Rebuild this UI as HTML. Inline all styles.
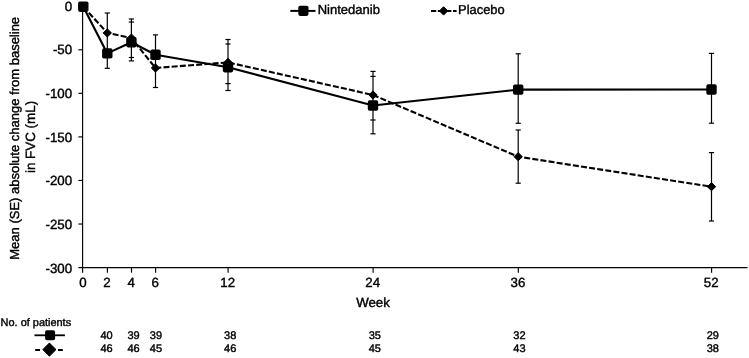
<!DOCTYPE html>
<html><head><meta charset="utf-8"><title>Chart</title>
<style>
html,body{margin:0;padding:0;background:#fff;}
body{width:749px;height:358px;overflow:hidden;}
svg{display:block;filter:grayscale(1);}
text{font-family:"Liberation Sans",sans-serif;fill:#000;stroke:#000;stroke-width:0.4px;text-rendering:geometricPrecision;}
</style></head><body>
<svg width="749" height="358" viewBox="0 0 749 358">
<rect x="0" y="0" width="749" height="358" fill="#fff"/>

<g stroke="#000" stroke-width="1.15" fill="none">
<line x1="82.6" y1="6.2" x2="82.6" y2="268.20000000000005"/>
<line x1="78.39999999999999" y1="267.6" x2="747.5" y2="267.6"/>
<line x1="78.39999999999999" y1="6.20" x2="82.6" y2="6.20"/>
<line x1="78.39999999999999" y1="49.77" x2="82.6" y2="49.77"/>
<line x1="78.39999999999999" y1="93.33" x2="82.6" y2="93.33"/>
<line x1="78.39999999999999" y1="136.90" x2="82.6" y2="136.90"/>
<line x1="78.39999999999999" y1="180.47" x2="82.6" y2="180.47"/>
<line x1="78.39999999999999" y1="224.03" x2="82.6" y2="224.03"/>
<line x1="82.6" y1="267.6" x2="82.6" y2="272.70000000000005"/>
<line x1="107.39999999999999" y1="267.6" x2="107.39999999999999" y2="272.70000000000005"/>
<line x1="131.5" y1="267.6" x2="131.5" y2="272.70000000000005"/>
<line x1="155.6" y1="267.6" x2="155.6" y2="272.70000000000005"/>
<line x1="228.1" y1="267.6" x2="228.1" y2="272.70000000000005"/>
<line x1="373.1" y1="267.6" x2="373.1" y2="272.70000000000005"/>
<line x1="518.3000000000001" y1="267.6" x2="518.3000000000001" y2="272.70000000000005"/>
<line x1="711.6" y1="267.6" x2="711.6" y2="272.70000000000005"/>
</g>
<text transform="translate(72.1,10.65) scale(1,1.0)" font-size="13.3" text-anchor="end">0</text>
<text transform="translate(72.1,54.32) scale(1,1.0)" font-size="13.3" text-anchor="end">-50</text>
<text transform="translate(72.1,97.99) scale(1,1.0)" font-size="13.3" text-anchor="end">-100</text>
<text transform="translate(72.1,141.66) scale(1,1.0)" font-size="13.3" text-anchor="end">-150</text>
<text transform="translate(72.1,185.33) scale(1,1.0)" font-size="13.3" text-anchor="end">-200</text>
<text transform="translate(72.1,229.0) scale(1,1.0)" font-size="13.3" text-anchor="end">-250</text>
<text transform="translate(72.1,272.67) scale(1,1.0)" font-size="13.3" text-anchor="end">-300</text>
<text transform="translate(83.0,287.2) scale(1,1.0)" font-size="13.3" text-anchor="middle">0</text>
<text transform="translate(107.0,287.2) scale(1,1.0)" font-size="13.3" text-anchor="middle">2</text>
<text transform="translate(131.1,287.2) scale(1,1.0)" font-size="13.3" text-anchor="middle">4</text>
<text transform="translate(155.2,287.2) scale(1,1.0)" font-size="13.3" text-anchor="middle">6</text>
<text transform="translate(227.7,287.2) scale(1,1.0)" font-size="13.3" text-anchor="middle">12</text>
<text transform="translate(372.7,287.2) scale(1,1.0)" font-size="13.3" text-anchor="middle">24</text>
<text transform="translate(517.9000000000001,287.2) scale(1,1.0)" font-size="13.3" text-anchor="middle">36</text>
<text transform="translate(711.2,287.2) scale(1,1.0)" font-size="13.3" text-anchor="middle">52</text>
<text transform="translate(373,306.8) scale(1,1.0)" font-size="13.3" text-anchor="middle">Week</text>
<text transform="translate(18.6,138.3) rotate(-90) scale(1,1.0)" font-size="13" text-anchor="middle">Mean (SE) absolute change from baseline</text>
<text transform="translate(35.2,137.0) rotate(-90) scale(1,1.0)" font-size="13.4" text-anchor="middle">in FVC (mL)</text>
<g stroke="#000" stroke-width="1.2" fill="none">
<line x1="107.3" y1="13.0" x2="107.3" y2="68.3"/>
<line x1="104.70" y1="13.0" x2="109.90" y2="13.0"/>
<line x1="104.70" y1="68.3" x2="109.90" y2="68.3"/>
<line x1="131.4" y1="19.0" x2="131.4" y2="60.9"/>
<line x1="128.80" y1="19.0" x2="134.00" y2="19.0"/>
<line x1="128.80" y1="22.0" x2="134.00" y2="22.0"/>
<line x1="128.80" y1="57.5" x2="134.00" y2="57.5"/>
<line x1="128.80" y1="60.9" x2="134.00" y2="60.9"/>
<line x1="155.5" y1="34.9" x2="155.5" y2="87.5"/>
<line x1="152.90" y1="34.9" x2="158.10" y2="34.9"/>
<line x1="152.90" y1="87.5" x2="158.10" y2="87.5"/>
<line x1="228.0" y1="39.5" x2="228.0" y2="90.5"/>
<line x1="225.40" y1="39.5" x2="230.60" y2="39.5"/>
<line x1="225.40" y1="44.0" x2="230.60" y2="44.0"/>
<line x1="225.40" y1="83.6" x2="230.60" y2="83.6"/>
<line x1="225.40" y1="90.5" x2="230.60" y2="90.5"/>
<line x1="373.0" y1="71.4" x2="373.0" y2="133.8"/>
<line x1="370.40" y1="71.4" x2="375.60" y2="71.4"/>
<line x1="370.40" y1="76.4" x2="375.60" y2="76.4"/>
<line x1="370.40" y1="120.0" x2="375.60" y2="120.0"/>
<line x1="370.40" y1="133.8" x2="375.60" y2="133.8"/>
<line x1="518.2" y1="53.8" x2="518.2" y2="123.3"/>
<line x1="515.60" y1="53.8" x2="520.80" y2="53.8"/>
<line x1="515.60" y1="123.3" x2="520.80" y2="123.3"/>
<line x1="518.2" y1="130.0" x2="518.2" y2="183.2"/>
<line x1="515.60" y1="130.0" x2="520.80" y2="130.0"/>
<line x1="515.60" y1="183.2" x2="520.80" y2="183.2"/>
<line x1="711.5" y1="53.4" x2="711.5" y2="123.2"/>
<line x1="708.90" y1="53.4" x2="714.10" y2="53.4"/>
<line x1="708.90" y1="123.2" x2="714.10" y2="123.2"/>
<line x1="711.5" y1="152.6" x2="711.5" y2="221.0"/>
<line x1="708.90" y1="152.6" x2="714.10" y2="152.6"/>
<line x1="708.90" y1="221.0" x2="714.10" y2="221.0"/>
</g>
<polyline points="83.3,6.7 107.3,32.9 131.4,38.1 155.5,68.0 228.0,62.4 373.0,95.0 518.2,156.7 711.5,186.7" fill="none" stroke="#000" stroke-width="2.1" stroke-dasharray="6 2.2"/>
<polyline points="83.3,6.7 107.3,53.4 131.4,42.2 155.5,54.8 228.0,67.2 373.0,105.5 518.2,89.6 711.5,89.5" fill="none" stroke="#000" stroke-width="2.15" stroke-linejoin="round"/>
<path d="M79.15,6.7 L83.3,2.55 L87.45,6.7 L83.3,10.85 Z" fill="#000" stroke="#000" stroke-width="1" stroke-linejoin="round"/>
<path d="M103.15,32.9 L107.3,28.75 L111.45,32.9 L107.3,37.05 Z" fill="#000" stroke="#000" stroke-width="1" stroke-linejoin="round"/>
<path d="M127.25,38.1 L131.4,33.95 L135.55,38.1 L131.4,42.25 Z" fill="#000" stroke="#000" stroke-width="1" stroke-linejoin="round"/>
<path d="M151.35,68.0 L155.5,63.85 L159.65,68.0 L155.5,72.15 Z" fill="#000" stroke="#000" stroke-width="1" stroke-linejoin="round"/>
<path d="M223.85,62.4 L228.0,58.25 L232.15,62.4 L228.0,66.55 Z" fill="#000" stroke="#000" stroke-width="1" stroke-linejoin="round"/>
<path d="M368.85,95.0 L373.0,90.85 L377.15,95.0 L373.0,99.15 Z" fill="#000" stroke="#000" stroke-width="1" stroke-linejoin="round"/>
<path d="M514.05,156.7 L518.2,152.55 L522.35,156.7 L518.2,160.85 Z" fill="#000" stroke="#000" stroke-width="1" stroke-linejoin="round"/>
<path d="M707.35,186.7 L711.5,182.55 L715.65,186.7 L711.5,190.85 Z" fill="#000" stroke="#000" stroke-width="1" stroke-linejoin="round"/>
<rect x="78.10" y="1.50" width="10.4" height="10.4" rx="1.8" fill="#000"/>
<rect x="102.10" y="48.20" width="10.4" height="10.4" rx="1.8" fill="#000"/>
<rect x="126.20" y="37.00" width="10.4" height="10.4" rx="1.8" fill="#000"/>
<rect x="150.30" y="49.60" width="10.4" height="10.4" rx="1.8" fill="#000"/>
<rect x="222.80" y="62.00" width="10.4" height="10.4" rx="1.8" fill="#000"/>
<rect x="367.80" y="100.30" width="10.4" height="10.4" rx="1.8" fill="#000"/>
<rect x="513.00" y="84.40" width="10.4" height="10.4" rx="1.8" fill="#000"/>
<rect x="706.30" y="84.30" width="10.4" height="10.4" rx="1.8" fill="#000"/>
<line x1="290.3" y1="10.9" x2="315.5" y2="10.9" stroke="#000" stroke-width="2"/>
<rect x="298.30" y="5.70" width="10.2" height="10.2" rx="1.8" fill="#000"/>
<text transform="translate(317.7,14.4) scale(1,1.0)" font-size="13.0" text-anchor="start">Nintedanib</text>
<line x1="431" y1="10.9" x2="456.6" y2="10.9" stroke="#000" stroke-width="2" stroke-dasharray="5.2 1.6 13.6 1.6 4"/>
<path d="M439.40,10.9 L443.6,6.70 L447.80,10.9 L443.6,15.10 Z" fill="#000" stroke="#000" stroke-width="1" stroke-linejoin="round"/>
<text transform="translate(458.1,14.4) scale(1,1.0)" font-size="12.9" text-anchor="start">Placebo</text>
<text transform="translate(0.6,325.5) scale(1,1.0)" font-size="10.95" text-anchor="start">No. of patients</text>
<line x1="34.5" y1="335.3" x2="64.9" y2="335.3" stroke="#000" stroke-width="1.8"/>
<rect x="45.10" y="330.20" width="10.0" height="10.0" rx="1.8" fill="#000"/>
<line x1="35.2" y1="350" x2="62.8" y2="350" stroke="#000" stroke-width="1.8" stroke-dasharray="4.8 18 4.8"/>
<path d="M42.80,349.6 L49.4,343.00 L56.00,349.6 L49.4,356.20 Z" fill="#000" stroke="#000" stroke-width="1" stroke-linejoin="round"/>
<text transform="translate(106.6,339.4) scale(1,1.0)" font-size="11" text-anchor="middle">40</text>
<text transform="translate(106.6,352.4) scale(1,1.0)" font-size="11" text-anchor="middle">46</text>
<text transform="translate(133.5,339.4) scale(1,1.0)" font-size="11" text-anchor="middle">39</text>
<text transform="translate(133.5,352.4) scale(1,1.0)" font-size="11" text-anchor="middle">46</text>
<text transform="translate(155.9,339.4) scale(1,1.0)" font-size="11" text-anchor="middle">39</text>
<text transform="translate(155.9,352.4) scale(1,1.0)" font-size="11" text-anchor="middle">45</text>
<text transform="translate(230.2,339.4) scale(1,1.0)" font-size="11" text-anchor="middle">38</text>
<text transform="translate(230.2,352.4) scale(1,1.0)" font-size="11" text-anchor="middle">46</text>
<text transform="translate(374.8,339.4) scale(1,1.0)" font-size="11" text-anchor="middle">35</text>
<text transform="translate(374.8,352.4) scale(1,1.0)" font-size="11" text-anchor="middle">45</text>
<text transform="translate(519.4,339.4) scale(1,1.0)" font-size="11" text-anchor="middle">32</text>
<text transform="translate(519.4,352.4) scale(1,1.0)" font-size="11" text-anchor="middle">43</text>
<text transform="translate(712.8,339.4) scale(1,1.0)" font-size="11" text-anchor="middle">29</text>
<text transform="translate(712.8,352.4) scale(1,1.0)" font-size="11" text-anchor="middle">38</text>
</svg></body></html>
